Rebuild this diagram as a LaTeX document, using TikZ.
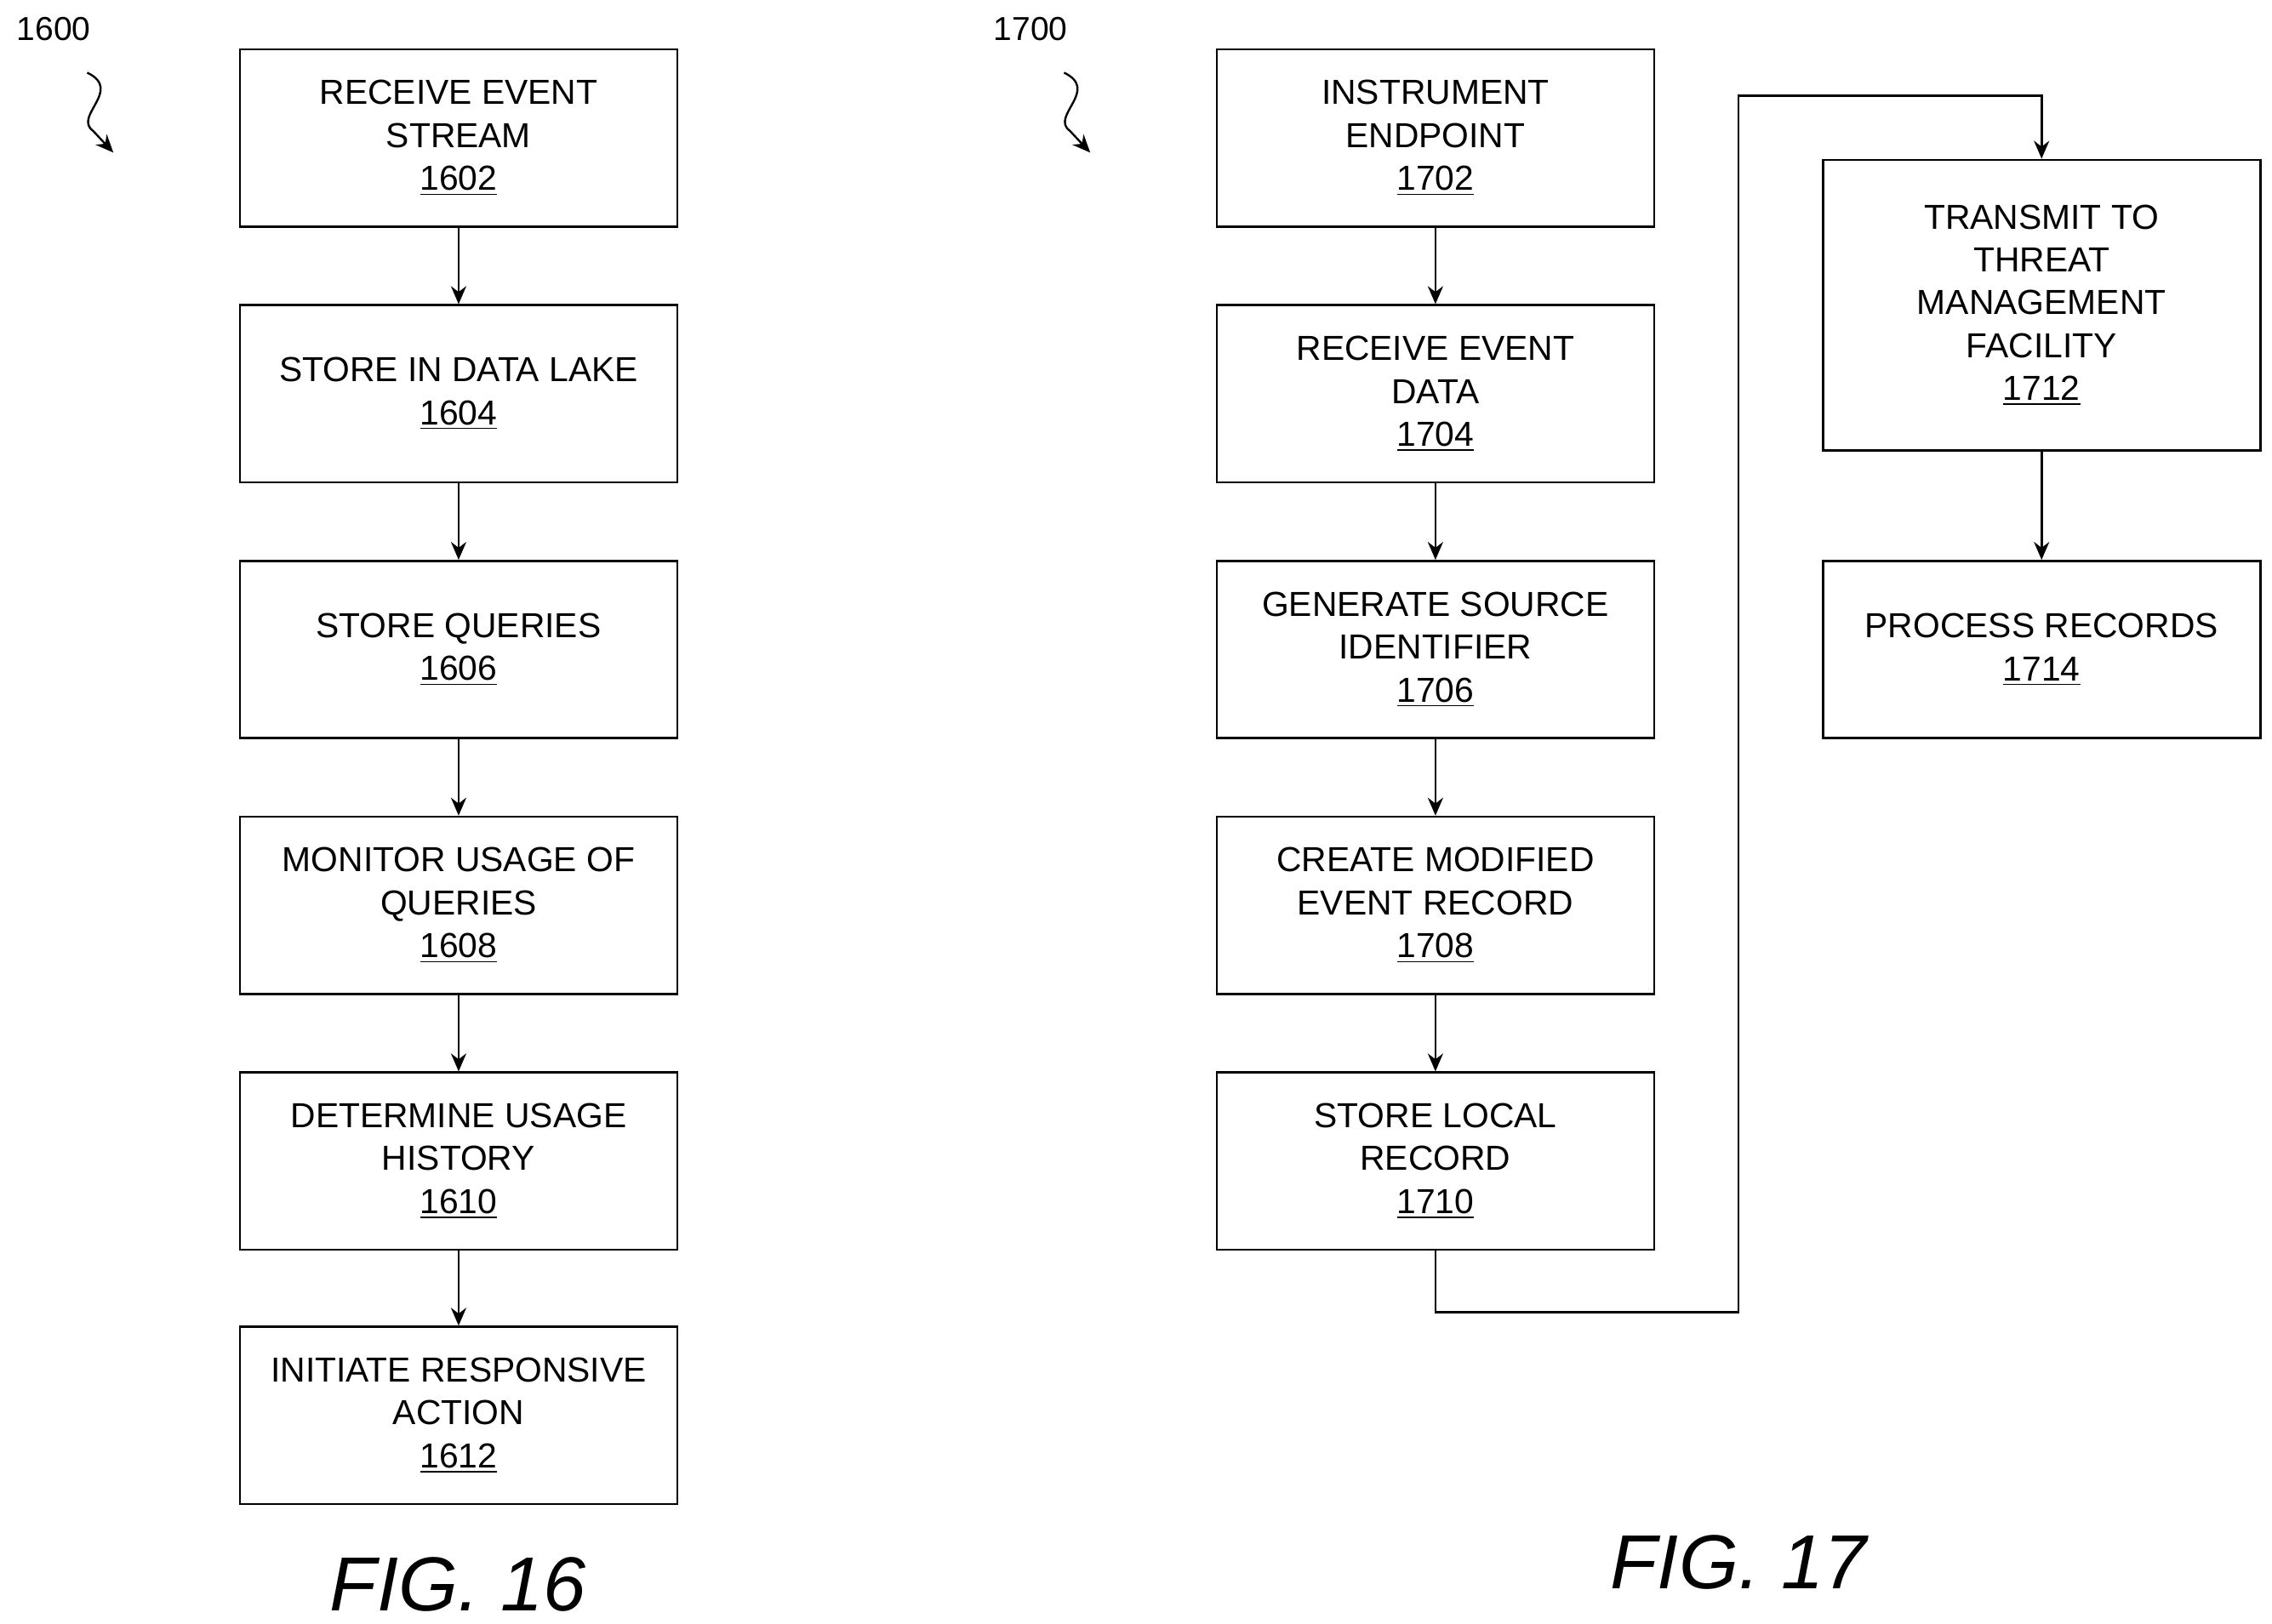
\documentclass[tikz,border=0pt]{standalone}
\usepackage{fontspec}
\setmainfont{Liberation Sans}
\usetikzlibrary{arrows.meta}
\begin{document}
\begin{tikzpicture}[x=0.02cm,y=-0.02cm,
  box/.style={draw,line width=0.9pt,minimum width=6.02cm,minimum height=2.44cm,align=center,inner sep=0pt,font=\fontsize{13.6}{16.8}\selectfont},
  arr/.style={-{Stealth[length=7pt,width=6pt]},line width=0.9pt},
  lab/.style={font=\fontsize{13}{16}\selectfont},
  fig/.style={font=\fontsize{30}{34}\selectfont\itshape}]
\useasboundingbox (0,0) rectangle (1563,1117);
\node[box] (a2) at (315.5,95) {RECEIVE EVENT\\STREAM\\\underline{1602}};
\node[box] (a4) at (315.5,271) {STORE IN DATA LAKE\\\underline{1604}};
\node[box] (a6) at (315.5,447) {STORE QUERIES\\\underline{1606}};
\node[box] (a8) at (315.5,623) {MONITOR USAGE OF\\QUERIES\\\underline{1608}};
\node[box] (a10) at (315.5,799) {DETERMINE USAGE\\HISTORY\\\underline{1610}};
\node[box] (a12) at (315.5,974) {INITIATE RESPONSIVE\\ACTION\\\underline{1612}};
\foreach \s/\t in {a2/a4,a4/a6,a6/a8,a8/a10,a10/a12} \draw[arr] (\s) -- (\t);
\node[box] (b2) at (987.5,95) {INSTRUMENT\\ENDPOINT\\\underline{1702}};
\node[box] (b4) at (987.5,271) {RECEIVE EVENT\\DATA\\\underline{1704}};
\node[box] (b6) at (987.5,447) {GENERATE SOURCE\\IDENTIFIER\\\underline{1706}};
\node[box] (b8) at (987.5,623) {CREATE MODIFIED\\EVENT RECORD\\\underline{1708}};
\node[box] (b10) at (987.5,799) {STORE LOCAL\\RECORD\\\underline{1710}};
\foreach \s/\t in {b2/b4,b4/b6,b6/b8,b8/b10} \draw[arr] (\s) -- (\t);
\node[box,minimum height=4cm] (b12) at (1404.5,210) {TRANSMIT TO\\THREAT\\MANAGEMENT\\FACILITY\\\underline{1712}};
\node[box] (b14) at (1404.5,447) {PROCESS RECORDS\\\underline{1714}};
\draw[arr] (b12) -- (b14);
\coordinate (c1) at (1196,903);
\coordinate (c2) at (1196,66);
\draw[arr] (b10.south) |- (c1) -- (c2) -| (b12.north);
\node[lab] (l1) at (37,20) {1600};
\node[lab] (l2) at (709,20) {1700};
\coordinate (s1) at (60,50); \coordinate (e1) at (78,105);
\draw[arr,line width=0.8pt] (s1) .. controls (85,62) and (50,80) .. (64,90) -- (e1);
\coordinate (s2) at (732,50); \coordinate (e2) at (750,105);
\draw[arr,line width=0.8pt] (s2) .. controls (757,62) and (722,80) .. (736,90) -- (e2);
\node[fig] (f16) at (315,1090) {FIG. 16};
\node[fig] (f17) at (1196,1075) {FIG. 17};
\end{tikzpicture}
\end{document}
